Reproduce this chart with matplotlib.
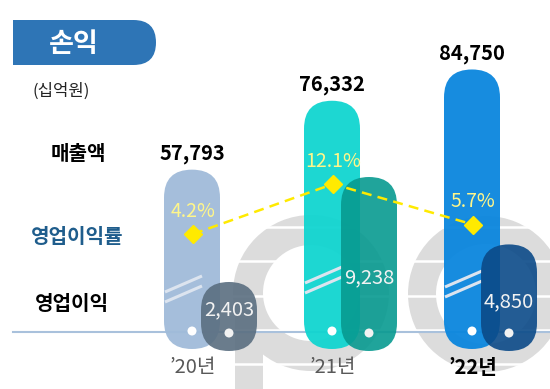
import matplotlib
matplotlib.use('Agg')
import matplotlib.pyplot as plt
from matplotlib.patches import FancyBboxPatch, Rectangle, Circle, Wedge

plt.rcParams['font.family'] = ['Noto Sans CJK KR', 'DejaVu Sans']

# data
years = ['’20년', '’21년', '’22년']
revenue = [57793, 76332, 84750]        # 매출액 (십억원)
op_profit = [2403, 9238, 4850]         # 영업이익 (십억원)
op_margin = [4.2, 12.1, 5.7]           # 영업이익률 (%)

rev_colors = ['#A0BBD9', '#10D5D0', '#0A86DE']
op_colors = ['#5A6E80', '#079A90', '#0B4A88']

# layout (pixel canvas, y grows downward)
W, H = 550, 389
base_y = 332
bar_bottom = 349
bar_w = 56
op_shift = 37
op_label_y = [310, 278, 302]
break_y = [284, 275, 279]


def x_pos(i):
    return 192 + 140 * i


def rev_y(v):
    # broken axis: revenue scale
    return 384.4 - 3.716 * v / 1000


def op_y(v):
    return 318.9 - 15.36 * v / 1000


def margin_y(m):
    return 260.6 - 6.33 * m


fig = plt.figure(figsize=(5.5, 3.89), dpi=100)
ax = fig.add_axes([0, 0, 1, 1])
ax.set_xlim(0, W)
ax.set_ylim(H, 0)
ax.axis('off')

# ---- background logo shapes ----
gray = '#DCDCDC'
ax.add_patch(Wedge((311, 293), 78, 0, 360, width=30, color=gray, zorder=1, lw=0))
ax.add_patch(Rectangle((235, 293), 28, H - 293, color=gray, zorder=1, lw=0))
ax.add_patch(Wedge((486, 294), 78, 0, 360, width=28, color=gray, zorder=1, lw=0))
for sy in [227, 261, 296, 330, 364]:
    ax.plot([228, W], [sy, sy], color='white', lw=1.8, zorder=2, solid_capstyle='butt')

# baseline
ax.plot([13, W], [base_y, base_y], color='#A9C1DC', lw=1.5, zorder=3)

# ---- title box ----
ax.add_patch(FancyBboxPatch((13, 20), 143, 45, boxstyle='round,pad=0,rounding_size=22.5',
                            fc='#2E75B6', ec='none', zorder=3))
ax.add_patch(Rectangle((13, 20), 40, 45, fc='#2E75B6', ec='none', zorder=3))
ax.text(74, 44, '손익', color='white', fontsize=19.5, fontweight='bold',
        ha='center', va='center', zorder=4)

ax.text(61, 91, '(십억원)', fontsize=12, color='#222222', ha='center', va='center')
ax.text(78, 153, '매출액', fontsize=14.5, fontweight='bold', color='black', ha='center', va='center')
ax.text(77, 236, '영업이익률', fontsize=14.5, fontweight='bold', color='#1F5D8C', ha='center', va='center')
ax.text(72, 303, '영업이익', fontsize=14.5, fontweight='bold', color='black', ha='center', va='center')

# ---- bars ----
for i in range(len(years)):
    xc = x_pos(i)
    # revenue capsule
    top = rev_y(revenue[i])
    ax.add_patch(FancyBboxPatch((xc - bar_w / 2, top), bar_w, bar_bottom - top,
                                boxstyle='round,pad=0,rounding_size=%f' % (bar_w / 2),
                                fc=rev_colors[i], ec='none', alpha=0.95, zorder=4))
    # break marks
    by = break_y[i]
    for off in (0, 10):
        ax.plot([xc - bar_w / 2 + 1, xc - bar_w / 2 + 38], [by + 8 + off, by - 8 + off],
                color='#DCE4EF', lw=2.2, zorder=5, solid_capstyle='butt')
    ax.add_patch(Circle((xc, 331), 4.5, fc='white', ec='none', zorder=5))
    ax.text(xc, top - 16, f'{revenue[i]:,}', fontsize=14.5, fontweight='bold',
            ha='center', va='center', zorder=9)

    # operating profit capsule
    xo = xc + op_shift
    otop = op_y(op_profit[i])
    ax.add_patch(FancyBboxPatch((xo - bar_w / 2, otop), bar_w, bar_bottom + 2 - otop,
                                boxstyle='round,pad=0,rounding_size=%f' % (bar_w / 2),
                                fc=op_colors[i], ec='none', alpha=0.9, zorder=6))
    ax.add_patch(Circle((xo, 333), 4.5, fc='#F2F2F2', ec='none', zorder=7))
    ax.text(xo, op_label_y[i], f'{op_profit[i]:,}', fontsize=14.5, color='#F2F2F2',
            fontweight='medium', ha='center', va='center', zorder=9)

    # year labels
    last = i == len(years) - 1
    ax.text(xc + 1, 367, years[i], fontsize=14.5, ha='center', va='center',
            color='black' if last else '#595959',
            fontweight='bold' if last else 'normal', zorder=9)

# ---- operating margin line ----
mx = [x_pos(i) + 1 for i in range(len(years))]
my = [margin_y(m) for m in op_margin]
ax.plot(mx, my, color='#FFEA00', lw=1.8, ls=(0, (4, 2.5)), zorder=8)
ax.plot(mx, my, ls='none', marker='D', ms=9, color='#FFEA00', zorder=8)
for x, y, m in zip(mx, my, op_margin):
    ax.text(x, y - 23, f'{m}%', fontsize=14, color='#FFF68A', ha='center', va='center', zorder=9)

fig.savefig('out.png', dpi=100)
